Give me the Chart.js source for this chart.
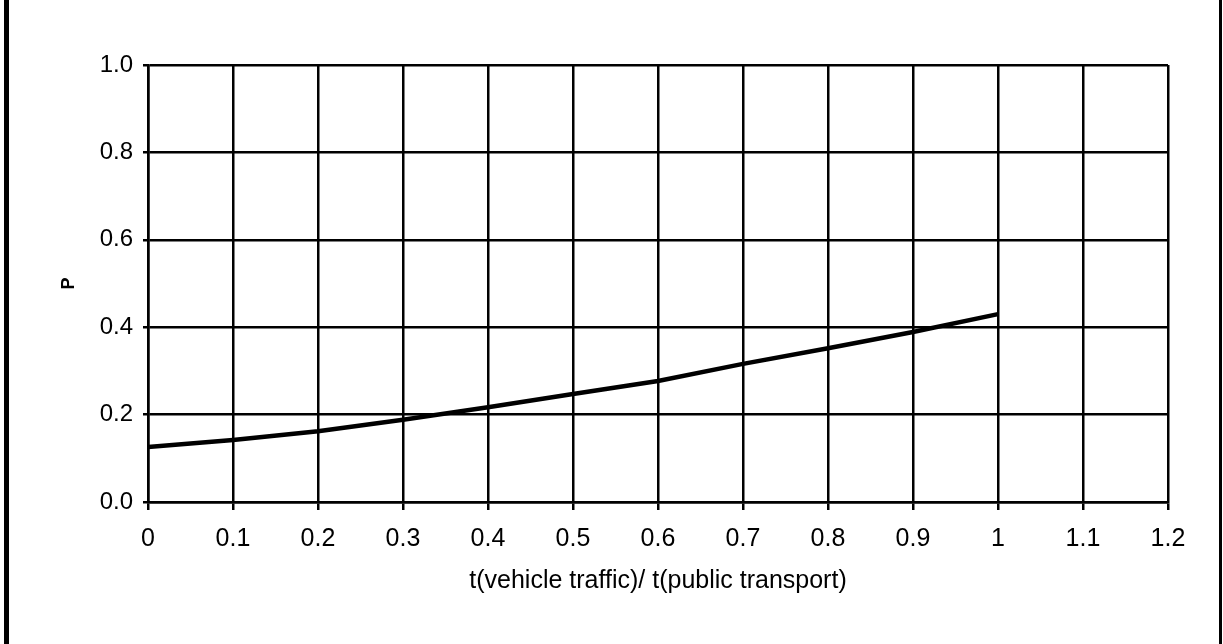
<!DOCTYPE html>
<html lang="en">

<head>
    <meta charset="UTF-8">
    <title>P vs travel time ratio</title>
    <style>
        body { margin: 0; background: #fff; }
        #wrap { position: relative; width: 1223px; height: 644px; }
        #frame {
            position: absolute; left: 4px; top: 0; width: 1218px; height: 644px;
            border-left: 5px solid #000; border-right: 3px solid #000; box-sizing: border-box;
        }
        #myChart { position: absolute; left: 0; top: 0; }
    </style>
</head>

<body>
    <div id="wrap">
        <div id="frame"></div>
        <canvas id="myChart" width="1223" height="644"></canvas>
    </div>

    <script src="https://cdn.jsdelivr.net/npm/chart.js@4.4.1/dist/chart.umd.min.js"></script>
    <script>
        // x: t(vehicle traffic)/ t(public transport)
        const ratios = [0, 0.1, 0.2, 0.3, 0.4, 0.5, 0.6, 0.7, 0.8, 0.9, 1.0];
        // y: P
        const pValues = [0.126, 0.142, 0.162, 0.188, 0.217, 0.247, 0.277, 0.316, 0.352, 0.389, 0.43];

        const xTitle = 't(vehicle traffic)/ t(public transport)';
        const yTitle = 'P';

        const fontFamily = '"Liberation Sans", Arial, sans-serif';
        Chart.defaults.font.family = fontFamily;
        Chart.defaults.color = '#000';

        const ctx = document.getElementById('myChart').getContext('2d');
        const myChart = new Chart(ctx, {
            type: 'line',
            data: {
                datasets: [{
                    label: yTitle,
                    data: ratios.map((r, i) => ({ x: r, y: pValues[i] })),
                    borderColor: '#000',
                    borderWidth: 4.5,
                    pointRadius: 0,
                    tension: 0,
                    fill: false
                }]
            },
            options: {
                responsive: false,
                animation: false,
                layout: {
                    padding: { left: 0, top: 65, right: 55, bottom: 0 }
                },
                scales: {
                    x: {
                        type: 'linear',
                        min: 0,
                        max: 1.2,
                        afterFit: s => { s.height = 142; },
                        grid: { color: '#000', lineWidth: 2.5, tickLength: 8 },
                        border: { color: '#000', width: 2.5 },
                        ticks: {
                            stepSize: 0.1,
                            padding: 14,
                            maxRotation: 0,
                            autoSkip: false,
                            font: { size: 25 },
                            callback: v => String(Number(v.toFixed(1)))
                        },
                        title: {
                            display: true,
                            text: xTitle,
                            font: { size: 25 },
                            padding: { top: 0, bottom: 48 }
                        }
                    },
                    y: {
                        min: 0,
                        max: 1,
                        afterFit: s => { s.width = 148; },
                        grid: { color: '#000', lineWidth: 2.5, tickLength: 5 },
                        border: { color: '#000', width: 2.5 },
                        ticks: {
                            stepSize: 0.2,
                            padding: 10,
                            font: { size: 24 },
                            callback: v => v.toFixed(1)
                        },
                        title: {
                            display: true,
                            text: yTitle,
                            font: { size: 18, weight: 'bold' },
                            padding: { top: 58, bottom: 0 }
                        }
                    }
                },
                plugins: {
                    legend: { display: false },
                    tooltip: { enabled: false }
                }
            }
        });
    </script>
</body>

</html>
